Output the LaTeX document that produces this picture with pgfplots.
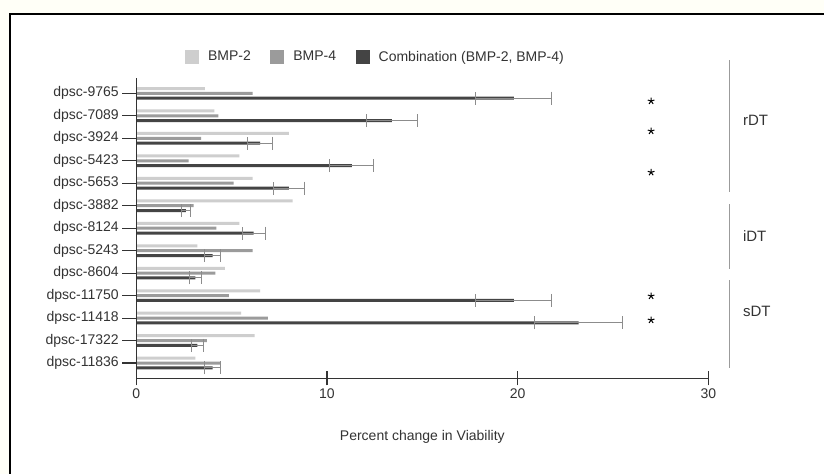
\documentclass[border=0pt]{standalone}
\usepackage{fontspec}
\setmainfont{Liberation Sans}
\usepackage{pgfplots}
\usepackage{pgfplotstable}
\pgfplotsset{compat=1.18}

\definecolor{cream}{RGB}{255,255,247}
\definecolor{bmptwo}{RGB}{206,206,206}
\definecolor{bmpfour}{RGB}{155,155,155}
\definecolor{combo}{RGB}{68,68,68}
\definecolor{errgray}{RGB}{140,140,140}
\definecolor{txt}{RGB}{51,51,51}

% y = 12 - row (top row = dpsc-9765)
\pgfplotstableread{
y  b2   b4   cb    err
12 3.6  6.1  19.8  2.0
11 4.1  4.3  13.4  1.33
10 8.0  3.4  6.5   0.65
9  5.4  2.75 11.3  1.15
8  6.1  5.1  8.0   0.8
7  8.2  3.0  2.6   0.25
6  5.4  4.2  6.15  0.6
5  3.2  6.1  4.0   0.4
4  4.65 4.15 3.1   0.3
3  6.5  4.85 19.8  2.0
2  5.5  6.9  23.2  2.3
1  6.2  3.7  3.2   0.32
0  3.1  4.4  4.0   0.4
}\viability

\begin{document}
\begin{tikzpicture}
\useasboundingbox (0,0) rectangle (824bp,-474bp);
\fill[cream] (0,0) rectangle (824bp,-474bp);
\fill[white] (10bp,-13.5bp) rectangle (824bp,-474bp);
\draw[line width=2bp, black] (10bp,-474bp) -- (10bp,-13.5bp) -- (824bp,-13.5bp);

\begin{axis}[
    at={(136.3bp,-378.3bp)}, anchor=south west,
    width=572bp, height=300bp, scale only axis,
    xmin=0, xmax=30, ymin=-0.68, ymax=12.67,
    axis x line=bottom, axis y line=left,
    axis line style={-, txt, line width=1.3bp},
    axis on top,
    tick align=center, major tick length=14bp,
    tick style={txt, line width=1.1bp},
    xtick={0,10,20,30},
    ytick={0,...,12},
    yticklabels={dpsc-11836,dpsc-17322,dpsc-11418,dpsc-11750,dpsc-8604,dpsc-5243,dpsc-8124,dpsc-3882,dpsc-5653,dpsc-5423,dpsc-3924,dpsc-7089,dpsc-9765},
    /pgf/number format/assume math mode=true,
    ticklabel style={font=\fontsize{14bp}{16bp}\selectfont, text=txt},
    xlabel={Percent change in Viability},
    xlabel style={font=\fontsize{14bp}{16bp}\selectfont, text=txt,
        at={(rel axis cs:0.5,0)}, anchor=center, yshift=-58.7bp},
    xbar, bar width=3bp,
    clip=false,
    legend columns=3,
    legend style={draw=none, fill=none, at={(axis cs:2.55,13.63)}, anchor=west,
        inner sep=0pt, font=\fontsize{14bp}{16bp}\selectfont, text=txt,
        nodes={inner sep=0pt},
        /tikz/every odd column/.append style={column sep=9bp},
        /tikz/every even column/.append style={column sep=19.5bp}},
    legend image code/.code={\fill[#1] (0bp,-7bp) rectangle (14bp,7bp);},
]
\addplot[bar shift=0.216, fill=bmptwo, draw=none] table[x=b2, y=y]{\viability};
\addlegendentry{BMP-2}
\addplot[bar shift=0, fill=bmpfour, draw=none] table[x=b4, y=y]{\viability};
\addlegendentry{BMP-4}
\addplot[bar shift=-0.216, fill=combo, draw=none,
    error bars/.cd, x dir=both, x explicit,
    error bar style={errgray, line width=1bp},
    error mark options={rotate=90, mark size=6.5bp, errgray, line width=1bp}]
    table[x=cb, y=y, x error=err]{\viability};
\addlegendentry{Combination (BMP-2, BMP-4)}

% significance stars
\addplot[only marks, mark=star, mark size=3.5bp, black,
    mark options={line width=1bp}, forget plot]
    coordinates {(27,11.657) (27,10.322) (27,8.484) (27,2.98) (27,1.91)};

% group brackets
\draw[bmpfour, line width=1.2bp] (axis cs:31.13,13.48) -- (axis cs:31.13,7.62);
\draw[bmpfour, line width=1.2bp] (axis cs:31.13,7.07) -- (axis cs:31.13,4.17);
\draw[bmpfour, line width=1.2bp] (axis cs:31.13,3.69) -- (axis cs:31.13,-0.24);
\node[anchor=west, inner sep=0pt, text=txt, font=\fontsize{15bp}{17bp}\selectfont] at (axis cs:31.81,10.81) {rDT};
\node[anchor=west, inner sep=0pt, text=txt, font=\fontsize{15bp}{17bp}\selectfont] at (axis cs:31.81,5.65) {iDT};
\node[anchor=west, inner sep=0pt, text=txt, font=\fontsize{15bp}{17bp}\selectfont] at (axis cs:31.81,2.28) {sDT};
\end{axis}
\end{tikzpicture}
\end{document}
